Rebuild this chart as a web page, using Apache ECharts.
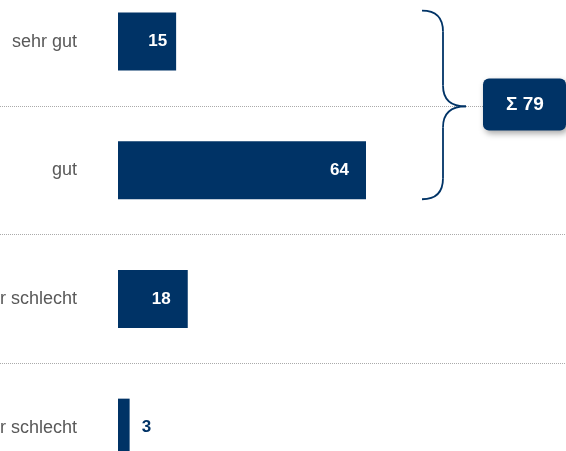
<!DOCTYPE html>
<html>
<head>
<meta charset="utf-8">
<script src="https://cdn.jsdelivr.net/npm/echarts@6/dist/echarts.min.js"></script>
<style>
html,body{margin:0;padding:0;background:#fff;}
#c{width:566px;height:451px;}
</style>
</head>
<body>
<div id="c"></div>
<script>
var categories = ['sehr gut', 'gut', 'eher schlecht', 'sehr schlecht'];
var values = [15, 64, 18, 3];
var bracedCount = 2; // first two categories are summed

var NAVY = '#003366';
var FONT = '"Liberation Sans", Arial, sans-serif';

var chart = echarts.init(document.getElementById('c'));

var data = values.map(function (v, i) {
  var lab;
  if (v < 8) {
    lab = { position: 'right', distance: 12, color: NAVY };
  } else if (v < 16) {
    lab = { position: 'insideRight', offset: [-4, 0], color: '#fff' };
  } else {
    lab = { position: 'insideRight', offset: [-12, 0], color: '#fff' };
  }
  return { value: v, label: lab };
});

var gridTop = -22.8, gridH = 514.8;

chart.setOption({
  animation: false,
  grid: [
    { left: 118, right: 60.5, top: gridTop, height: gridH, containLabel: false, outerBoundsMode: 'none' },
    { left: 0, right: 0, top: gridTop, height: gridH, containLabel: false, outerBoundsMode: 'none' }
  ],
  xAxis: [
    { type: 'value', gridIndex: 0, min: 0, max: 100, show: false },
    { type: 'value', gridIndex: 1, min: 0, max: 100, show: false }
  ],
  yAxis: [
    {
      type: 'category', gridIndex: 0, inverse: true, data: categories,
      axisLine: { show: false }, axisTick: { show: false }, splitLine: { show: false },
      axisLabel: { margin: 41, color: '#595959', fontSize: 18, fontFamily: FONT }
    },
    {
      type: 'category', gridIndex: 1, inverse: true, data: categories,
      axisLine: { show: false }, axisTick: { show: false }, axisLabel: { show: false },
      splitLine: { show: true, lineStyle: { color: '#aaaaaa', type: 'dotted', width: 1 } }
    }
  ],
  series: [{
    type: 'bar',
    xAxisIndex: 0, yAxisIndex: 0,
    barWidth: 58,
    itemStyle: { color: NAVY },
    label: { show: true, fontWeight: 'bold', fontSize: 17, fontFamily: FONT },
    data: data
  }]
});

// Brace + sum box derived from the category positions
var yA = Number(chart.convertToPixel({ yAxisIndex: 0 }, categories[0]));
var yB = Number(chart.convertToPixel({ yAxisIndex: 0 }, categories[bracedCount - 1]));
var yTop = yA - 31, yBot = yB + 29, yMid = (yTop + yBot) / 2 + 1.5;
var xl = 422, xv = 443, xt = 466, rr = 21;
var sum = values.slice(0, bracedCount).reduce(function (a, b) { return a + b; }, 0);

function bs() { return { stroke: NAVY, lineWidth: 1.8, fill: 'none' }; }
function q(x1, y1, cx, cy, x2, y2) {
  return { type: 'bezierCurve', shape: { x1: x1, y1: y1, cpx1: cx, cpy1: cy, x2: x2, y2: y2 }, style: bs(), z: 10 };
}
function ln(x1, y1, x2, y2) {
  return { type: 'line', shape: { x1: x1, y1: y1, x2: x2, y2: y2 }, style: bs(), z: 10 };
}

chart.setOption({
  graphic: [
    q(xl, yTop, xv, yTop, xv, yTop + rr),
    ln(xv, yTop + rr, xv, yMid - rr),
    q(xv, yMid - rr, xv, yMid, xt, yMid),
    q(xt, yMid, xv, yMid, xv, yMid + rr),
    ln(xv, yMid + rr, xv, yBot - rr),
    q(xv, yBot - rr, xv, yBot, xl, yBot),
    {
      type: 'rect', shape: { x: 483, y: yMid - 28, width: 83, height: 52, r: 6 },
      style: { fill: NAVY, shadowBlur: 6, shadowOffsetX: 2, shadowOffsetY: 3, shadowColor: 'rgba(0,0,0,0.35)' },
      z: 10
    },
    {
      type: 'text', x: 525, y: yMid - 2,
      style: { text: '\u03A3 ' + sum, fill: '#fff', font: 'bold 19px ' + FONT, textAlign: 'center', textVerticalAlign: 'middle' },
      z: 11
    }
  ]
});
</script>
</body>
</html>
